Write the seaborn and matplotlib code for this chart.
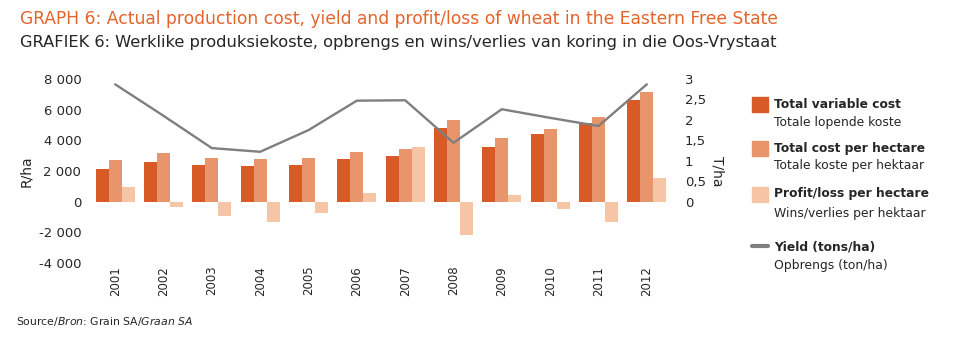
import numpy as np
import pandas as pd
import matplotlib
matplotlib.use("Agg")
import matplotlib.pyplot as plt
from matplotlib.patches import Rectangle
from matplotlib.lines import Line2D
import seaborn as sns

# Wheat, Eastern Free State (R/ha and t/ha)
years = ["2001", "2002", "2003", "2004", "2005", "2006",
         "2007", "2008", "2009", "2010", "2011", "2012"]
total_variable_cost = [2130, 2565, 2415, 2305, 2415, 2805, 2960, 4785, 3565, 4415, 5150, 6630]
total_cost_per_ha = [2715, 3150, 2870, 2785, 2870, 3260, 3435, 5305, 4130, 4760, 5545, 7175]
profit_loss_per_ha = [980, -325, -915, -1305, -715, 565, 3565, -2175, 455, -480, -1305, 1545]
yield_t_ha = [2.87, 2.10, 1.31, 1.22, 1.75, 2.47, 2.48, 1.44, 2.26, 2.05, 1.85, 2.87]

series_en = ["Total variable cost", "Total cost per hectare", "Profit/loss per hectare"]
series_af = ["Totale lopende koste", "Totale koste per hektaar", "Wins/verlies per hektaar"]
line_en = "Yield (tons/ha)"
line_af = "Opbrengs (ton/ha)"

left_ticks = [-4000, -2000, 0, 2000, 4000, 6000, 8000]
left_labels = ["-4 000", "-2 000", "0", "2 000", "4 000", "6 000", "8 000"]
right_ticks = [0, 0.5, 1, 1.5, 2, 2.5, 3]
right_labels = ["0", "0,5", "1", "1,5", "2", "2,5", "3"]

bar_colors = ["#D85A26", "#E8956B", "#F5C5A6"]
line_color = "#7F7F7F"
title_orange = "#E4642C"
text_dark = "#262626"

df = pd.DataFrame({
    "year": years * 3,
    "series": sum([[s] * len(years) for s in series_en], []),
    "value": total_variable_cost + total_cost_per_ha + profit_loss_per_ha,
})

sns.set_theme(style="white")
plt.rcParams["font.family"] = ["DejaVu Sans"]

fig = plt.figure(figsize=(9.6, 3.37), dpi=100)
ax = fig.add_axes([91 / 960, 1 - 263 / 337, 580 / 960, 184 / 337])

sns.barplot(data=df, x="year", y="value", hue="series", hue_order=series_en,
            palette=bar_colors, saturation=1, width=0.81, gap=0,
            linewidth=0, legend=False, ax=ax)
ax.set_xlim(-0.5, len(years) - 0.5)
ax.set_ylim(-4000, 8000)
ax.set_yticks(left_ticks)
ax.set_yticklabels(left_labels)
ax.set_xlabel("")
ax.set_ylabel("R/ha", fontsize=10, color=text_dark, labelpad=4)
ax.tick_params(axis="y", length=0, labelsize=9.5, labelcolor=text_dark, pad=7)
ax.tick_params(axis="x", length=0, labelsize=8.5, labelcolor=text_dark, pad=2, rotation=90)
for s in ax.spines.values():
    s.set_visible(False)

ax2 = ax.twinx()
sns.lineplot(x=np.arange(len(years)), y=yield_t_ha, color=line_color,
             linewidth=1.7, ax=ax2)
ax2.set_ylim(-1.5, 3.0)
ax2.set_yticks(right_ticks)
ax2.set_yticklabels(right_labels)
ax2.set_ylabel("T/ha", fontsize=10, color=text_dark, rotation=270,
               labelpad=13)
ax2.tick_params(axis="y", length=0, labelsize=9.5, labelcolor=text_dark, pad=10)
ax2.grid(False)
for s in ax2.spines.values():
    s.set_visible(False)

# Titles
fig.text(20 / 960, 1 - 19 / 337, "GRAPH 6: Actual production cost, yield and profit/loss of wheat in the Eastern Free State",
         color=title_orange, fontsize=12.3, va="center", ha="left")
fig.text(20 / 960, 1 - 43 / 337, "GRAFIEK 6: Werklike produksiekoste, opbrengs en wins/verlies van koring in die Oos-Vrystaat",
         color=text_dark, fontsize=11.7, va="center", ha="left")

# Legend
sq_x = 752 / 960
txt_x = 774 / 960
sq_w = 16 / 960
sq_h = 15 / 337
rows = [(104, 122), (148, 166), (194, 213)]
for (ty, sy), col, en, af in zip(rows, bar_colors, series_en, series_af):
    fig.patches.append(Rectangle((sq_x, 1 - (ty + 7.5) / 337), sq_w, sq_h,
                                 transform=fig.transFigure, color=col))
    fig.text(txt_x, 1 - ty / 337, en, fontsize=8.8, fontweight="bold",
             color=text_dark, va="center", ha="left")
    fig.text(txt_x, 1 - sy / 337, af, fontsize=8.9, color=text_dark,
             va="center", ha="left")
fig.lines.append(Line2D([sq_x, sq_x + sq_w], [1 - 245.5 / 337] * 2,
                        transform=fig.transFigure, color=line_color, linewidth=3))
fig.text(txt_x, 1 - 246.5 / 337, line_en, fontsize=8.8, fontweight="bold",
         color=text_dark, va="center", ha="left")
fig.text(txt_x, 1 - 265 / 337, line_af, fontsize=8.9, color=text_dark,
         va="center", ha="left")

# Source
fig.text(16 / 960, 1 - 322 / 337,
         r"Source/$\it{Bron}$: Grain SA/$\it{Graan\ SA}$",
         fontsize=7.8, color=text_dark, va="center", ha="left")

fig.savefig("out.png", dpi=100)
